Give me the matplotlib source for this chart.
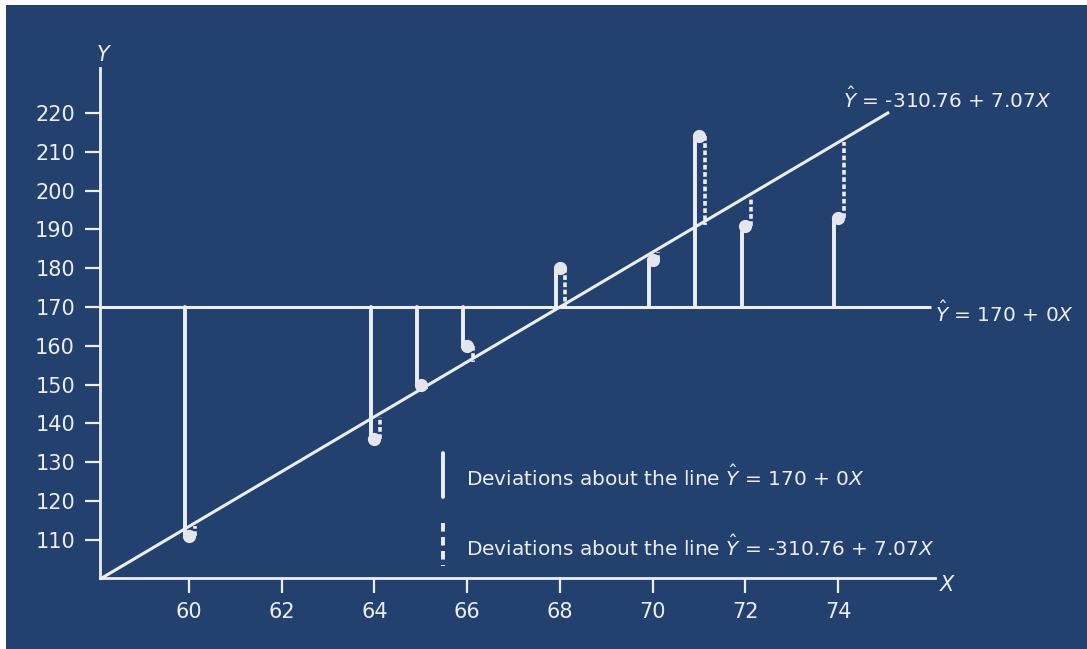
import matplotlib
matplotlib.use("Agg")
import matplotlib.pyplot as plt
from matplotlib.patches import Rectangle
from matplotlib.lines import Line2D
import numpy as np

# Observed data
x_vals = [60, 64, 65, 66, 68, 70, 71, 72, 74]
y_vals = [111, 136, 150, 160, 180, 182, 214, 191, 193]

# The two candidate lines
flat_level = 170            # Y-hat = 170 + 0X
fit_intercept = -310.76     # Y-hat = -310.76 + 7.07X
fit_slope = 7.07

x_ticks = [60, 62, 64, 66, 68, 70, 72, 74]
y_ticks = [110, 120, 130, 140, 150, 160, 170, 180, 190, 200, 210, 220]

BG = "#22416e"
FG = "#eceef3"

plt.rcParams["font.family"] = ["DejaVu Sans"]
plt.rcParams["mathtext.fontset"] = "dejavusans"

W, H = 1087, 649
fig = plt.figure(figsize=(W / 100, H / 100), dpi=100)
fig.patch.set_facecolor("white")
fig.add_artist(Rectangle((6 / W, 0), 1 - 6 / W, (H - 5) / H,
                         transform=fig.transFigure, facecolor=BG,
                         edgecolor="none", zorder=-10))


def fx(px):
    return px / W


def fy(py):
    return 1 - py / H


ax = fig.add_axes([fx(100), fy(578), (935 - 100) / W, (578 - 68) / H])
ax.set_facecolor("none")
ax.set_xlim(58.08, 76.09)
ax.set_ylim(100.15, 231.6)

for side in ("top", "right"):
    ax.spines[side].set_visible(False)
for side in ("left", "bottom"):
    ax.spines[side].set_color(FG)
    ax.spines[side].set_linewidth(2.0)

ax.set_xticks(x_ticks)
ax.set_yticks(y_ticks)
ax.tick_params(axis="both", colors=FG, width=1.6, length=11,
               direction="out", labelsize=15, labelcolor=FG)
ax.tick_params(axis="y", pad=7)
ax.tick_params(axis="x", pad=6)

x_left, x_right = 58.08, 76.0

# Horizontal line Y-hat = 170
ax.plot([x_left, x_right], [flat_level, flat_level], color=FG, lw=2.2,
        solid_capstyle="butt", clip_on=False, zorder=3)

# Least-squares line
x_fit = np.array([x_left, 75.1])
ax.plot(x_fit, fit_intercept + fit_slope * x_fit, color=FG, lw=2.2,
        solid_capstyle="butt", clip_on=False, zorder=3)

# Deviations: solid to the flat line, dashed to the fitted line
for xv, yv in zip(x_vals, y_vals):
    ax.plot([xv - 0.08, xv - 0.08], [flat_level, yv], color=FG, lw=2.8,
            solid_capstyle="round", zorder=4)
    y_hat = fit_intercept + fit_slope * xv
    ax.plot([xv + 0.12, xv + 0.12], [yv, y_hat], color=FG, lw=2.6,
            linestyle=(0, (1.3, 0.7)), dash_capstyle="butt", zorder=4)

ax.plot(x_vals, y_vals, "o", color="#e4e6ec", markersize=9.5,
        markeredgewidth=0, zorder=5)

# Axis letters
fig.text(fx(103), fy(55), "Y", color=FG, fontsize=15, style="italic",
         ha="center", va="center")
fig.text(fx(947), fy(585), "X", color=FG, fontsize=15, style="italic",
         ha="center", va="center")

# Line labels
fig.text(fx(843), fy(99), r"$\hat{Y}$ = -310.76 + 7.07$X$", color=FG,
         fontsize=14.5, ha="left", va="center")
fig.text(fx(935), fy(313), r"$\hat{Y}$ = 170 + 0$X$", color=FG,
         fontsize=14.5, ha="left", va="center")

# Key
fig.add_artist(Line2D([fx(443), fx(443)], [fy(453), fy(497)], color=FG,
                      lw=2.8, solid_capstyle="round"))
fig.add_artist(Line2D([fx(443), fx(443)], [fy(523), fy(566)], color=FG,
                      lw=2.8, linestyle=(0, (2.2, 1.4)), dash_capstyle="butt"))
fig.text(fx(466), fy(477), r"Deviations about the line $\hat{Y}$ = 170 + 0$X$",
         color=FG, fontsize=14.5, ha="left", va="center")
fig.text(fx(466), fy(547),
         r"Deviations about the line $\hat{Y}$ = -310.76 + 7.07$X$",
         color=FG, fontsize=14.5, ha="left", va="center")

fig.savefig("out.png", dpi=100, facecolor=fig.get_facecolor())
